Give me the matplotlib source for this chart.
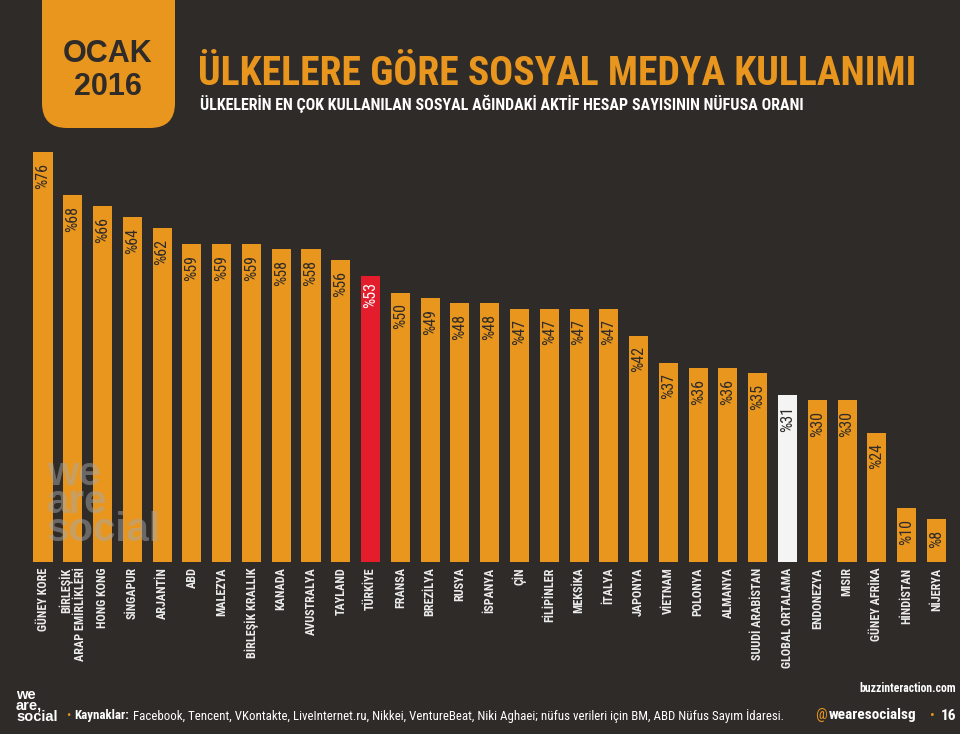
import matplotlib
matplotlib.use("Agg")
import matplotlib.pyplot as plt
from matplotlib.patches import FancyBboxPatch

# veriler
ulkeler = ["GÜNEY KORE", "BİRLEŞİK\nARAP EMİRLİKLERİ", "HONG KONG", "SİNGAPUR", "ARJANTİN",
           "ABD", "MALEZYA", "BİRLEŞİK KRALLIK", "KANADA", "AVUSTRALYA", "TAYLAND",
           "TÜRKİYE", "FRANSA", "BREZİLYA", "RUSYA", "İSPANYA", "ÇİN", "FİLİPİNLER",
           "MEKSİKA", "İTALYA", "JAPONYA", "VİETNAM", "POLONYA", "ALMANYA",
           "SUUDİ ARABİSTAN", "GLOBAL ORTALAMA", "ENDONEZYA", "MISIR", "GÜNEY AFRİKA",
           "HİNDİSTAN", "NİJERYA"]
oranlar = [76, 68, 66, 64, 62, 59, 59, 59, 58, 58, 56, 53, 50, 49, 48, 48, 47, 47,
           47, 47, 42, 37, 36, 36, 35, 31, 30, 30, 24, 10, 8]

ARKA = "#2f2b29"
TURUNCU = "#e8961e"
KIRMIZI = "#e31d2b"
BEYAZ = "#f4f4f4"
DAR = ["Roboto Condensed", "Liberation Sans Narrow", "DejaVu Sans"]
GENIS = ["Liberation Sans", "DejaVu Sans"]

renkler = []
yazi_renk = []
for u in ulkeler:
    if u == "TÜRKİYE":
        renkler.append(KIRMIZI); yazi_renk.append("white")
    elif u == "GLOBAL ORTALAMA":
        renkler.append(BEYAZ); yazi_renk.append(ARKA)
    else:
        renkler.append(TURUNCU); yazi_renk.append(ARKA)

fig = plt.figure(figsize=(9.6, 7.34), dpi=100)
fig.patch.set_facecolor(ARKA)

# cubuk grafik alani (piksel: alt 562)
ax = fig.add_axes([0, 172 / 734, 1, 562 / 734])
ax.set_facecolor(ARKA)
x = list(range(len(ulkeler)))
ax.bar(x, oranlar, width=0.64, color=renkler, zorder=2)
ax.set_xlim((0 - 43) / 29.78, (960 - 43) / 29.78)
ax.set_ylim(0, 562 / 5.39)
for s in ax.spines.values():
    s.set_visible(False)
ax.set_xticks([]); ax.set_yticks([])

for i, v in enumerate(oranlar):
    bosluk = 1.0 if ulkeler[i] == "TÜRKİYE" else 2.0
    ax.text(i, v - bosluk, "%" + str(v), rotation=90, ha="center", va="top",
            fontsize=11.5, color=yazi_renk[i], family=DAR, zorder=3)
    ax.text(i, -1.0, ulkeler[i], rotation=90, ha="center", va="top",
            multialignment="right", fontsize=8.7, fontweight="bold", linespacing=1.05,
            color="#ececec", family=DAR, clip_on=False)

# filigran
ax.text((47 - 43) / 29.78, (562 - 502) / 5.39, "we\nare\nsocial", fontsize=29,
        fontweight="bold", color="#a8a8a8", alpha=0.5, ha="left", va="center",
        linespacing=0.68, zorder=4, family=GENIS)

# baslik ve alt bilgi katmani (piksel koordinat)
ov = fig.add_axes([0, 0, 1, 1], facecolor="none")
ov.set_xlim(0, 960); ov.set_ylim(734, 0)
ov.axis("off")

ov.add_patch(FancyBboxPatch((42, -40), 133, 168, boxstyle="round,pad=0,rounding_size=25",
                            facecolor=TURUNCU, edgecolor="none"))
ov.text(108, 54, "OCAK", fontsize=22, fontweight="bold", color=ARKA, ha="center",
        va="center", family=GENIS)
ov.text(108, 87, "2016", fontsize=22, fontweight="bold", color=ARKA, ha="center",
        va="center", family=GENIS)
ov.text(198, 74, "ÜLKELERE GÖRE SOSYAL MEDYA KULLANIMI", fontsize=28.5, fontweight="bold",
        color=TURUNCU, ha="left", va="center", family=DAR)
ov.text(200, 104, "ÜLKELERİN EN ÇOK KULLANILAN SOSYAL AĞINDAKİ AKTİF HESAP SAYISININ NÜFUSA ORANI",
        fontsize=11.5, fontweight="bold", color="white", ha="left", va="center", family=DAR)

# alt bilgi
ov.text(16, 706, "we\nare,\nsocial", fontsize=10.5, fontweight="bold", color="white",
        ha="left", va="center", linespacing=0.72, family=GENIS)
ov.text(66, 716, "•", fontsize=9, color=TURUNCU, ha="left", va="center", family=DAR)
kay = ov.text(74, 716, "Kaynaklar:", fontsize=9.3, fontweight="bold", color="white",
              ha="left", va="center", family=DAR)
ov.annotate("Facebook, Tencent, VKontakte, LiveInternet.ru, Nikkei, VentureBeat, Niki Aghaei; "
            "nüfus verileri için BM, ABD Nüfus Sayım İdaresi.", xy=(1, 0.5), xycoords=kay,
            xytext=(3, 0), textcoords="offset points", fontsize=9.3, color="white",
            ha="left", va="center", family=DAR)
ov.text(956, 688, "buzzinteraction.com", fontsize=8.5, fontweight="bold", color="white",
        ha="right", va="center", family=DAR)
ov.text(815, 715, "@", fontsize=11, color=TURUNCU, ha="left", va="center", family=DAR)
ov.text(829, 715, "wearesocialsg", fontsize=11, fontweight="bold", color="white",
        ha="left", va="center", family=DAR)
ov.text(930, 716, "•", fontsize=10, color=TURUNCU, ha="left", va="center", family=DAR)
ov.text(956, 716, "16", fontsize=11, fontweight="bold", color="white",
        ha="right", va="center", family=DAR)

fig.savefig("out.png", dpi=100, facecolor=ARKA)
